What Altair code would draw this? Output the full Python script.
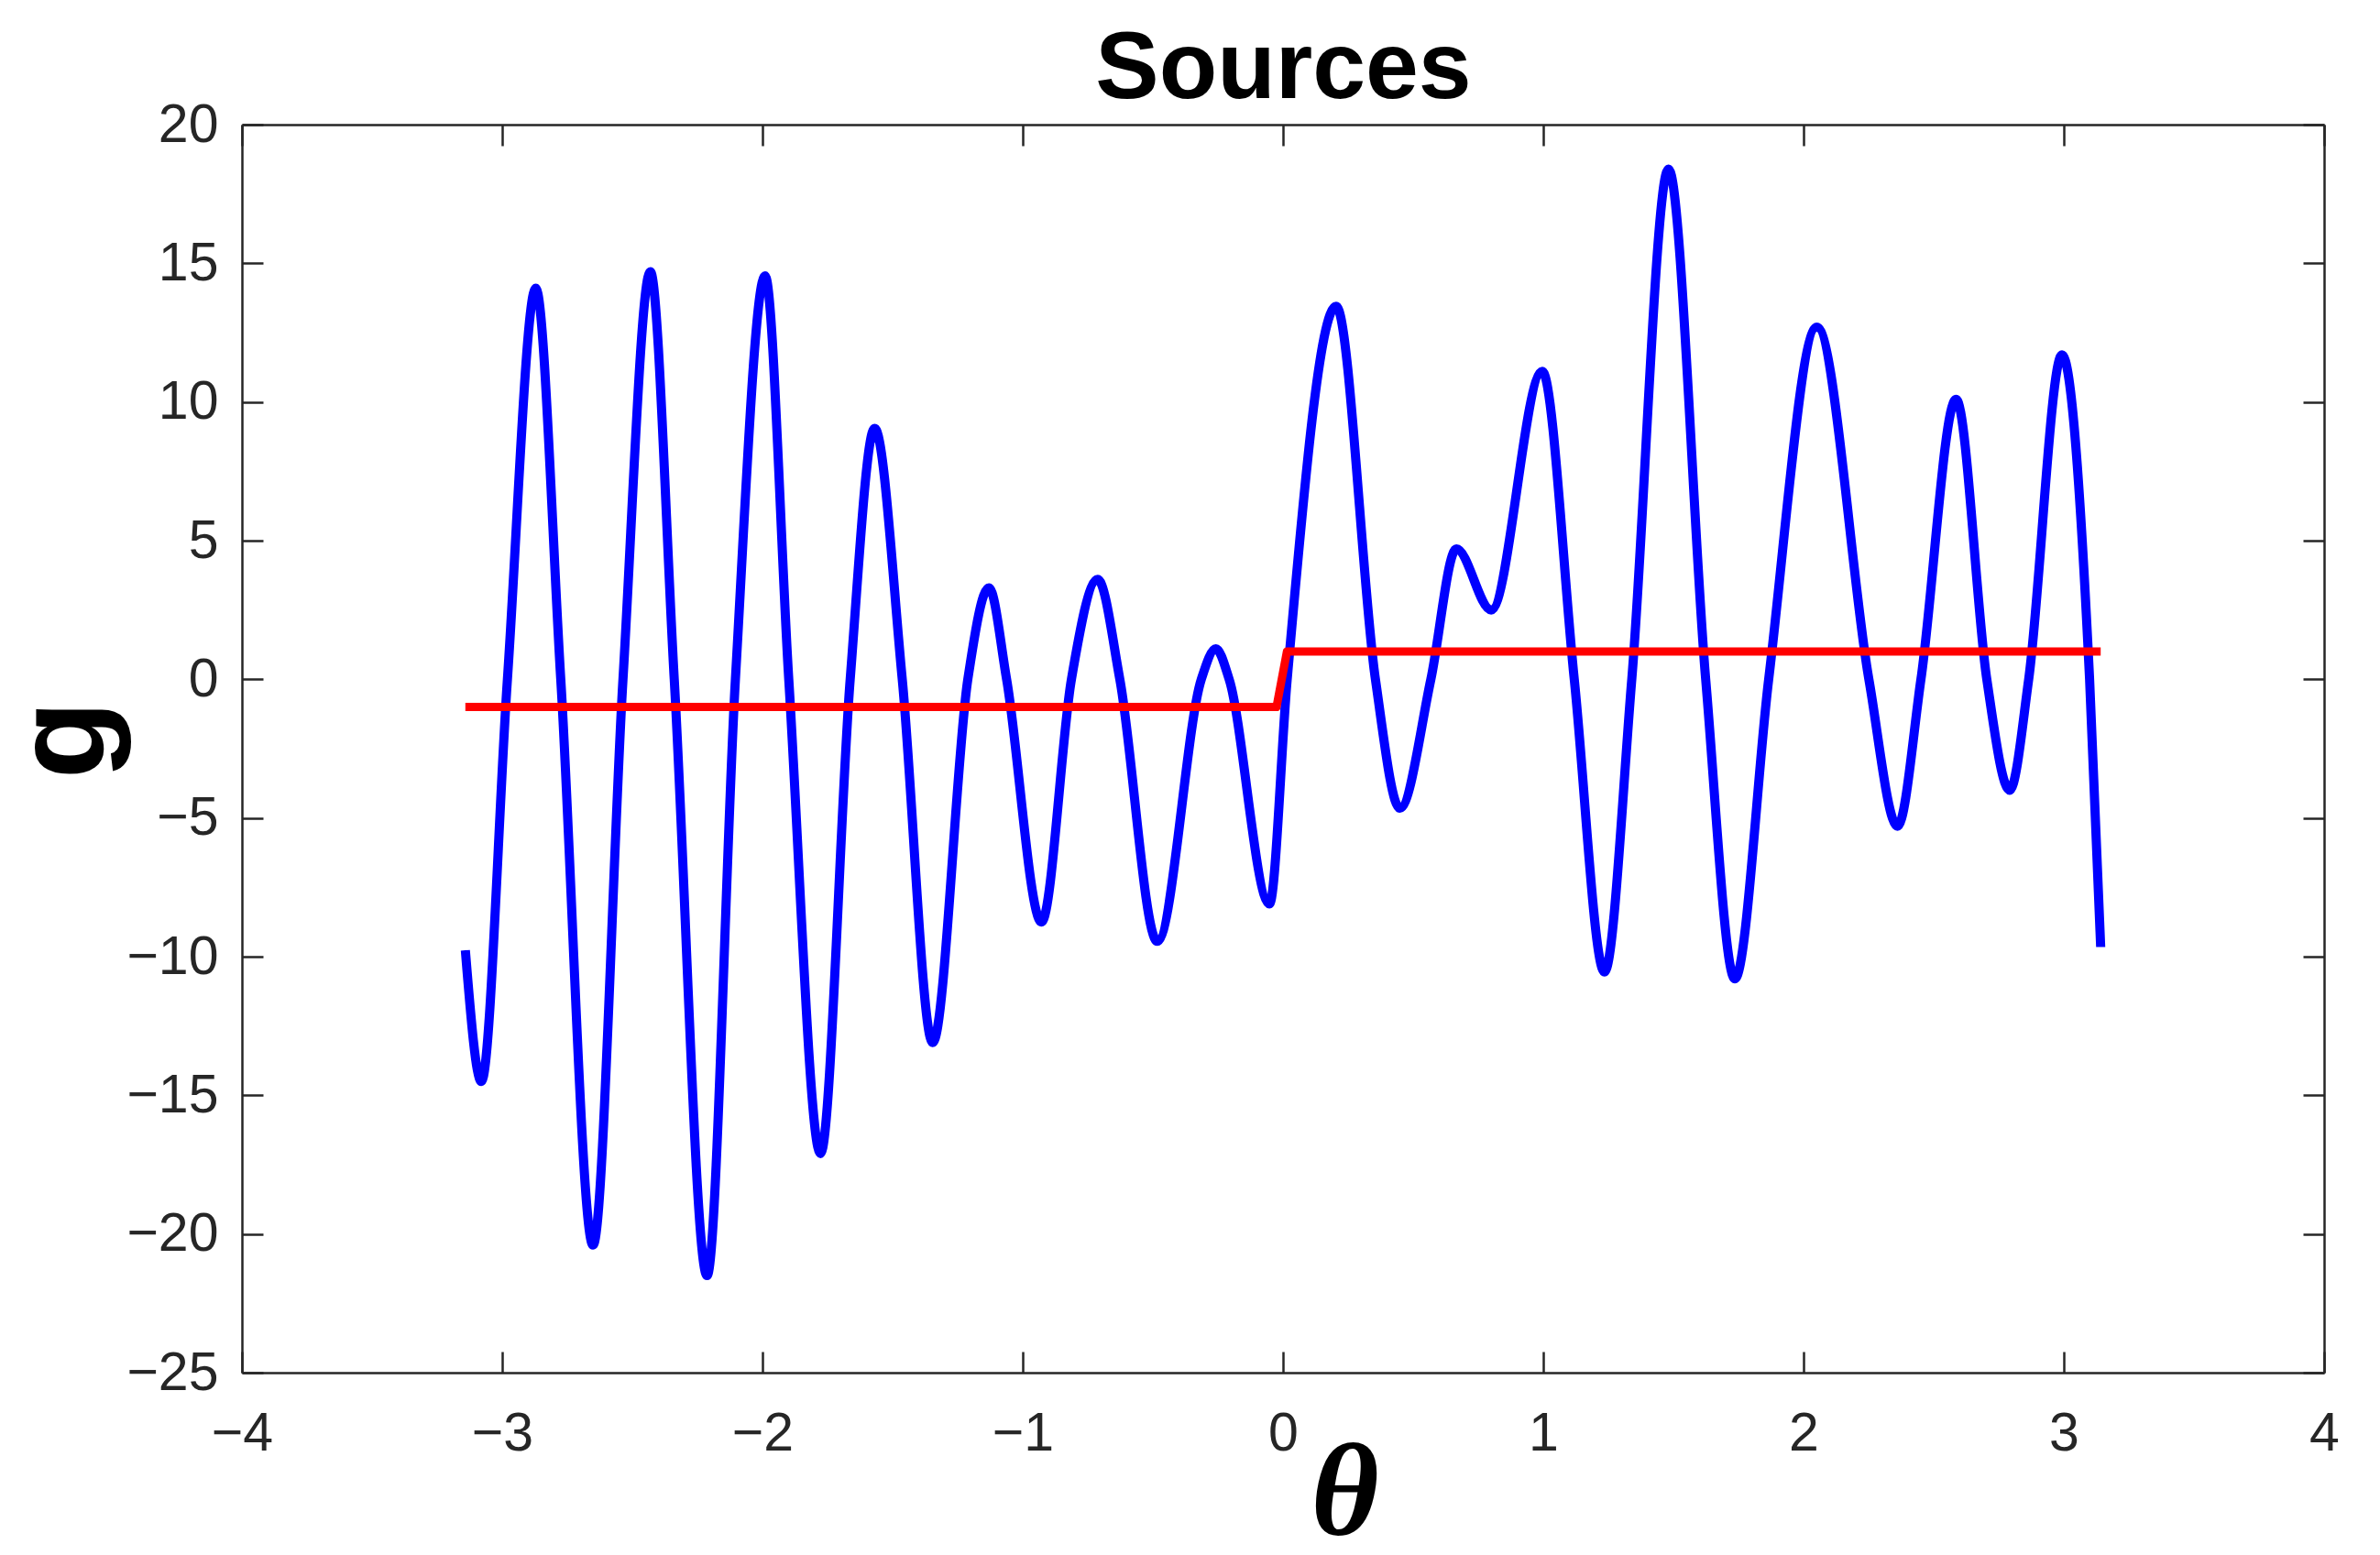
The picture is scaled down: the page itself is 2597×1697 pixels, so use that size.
import altair as alt
import pandas as pd

# Blue curve: samples (extrema and zero crossings)
theta_blue = [-3.1416, -3.080, -2.980, -2.871, -2.775, -2.651, -2.536, -2.431, -2.339,
              -2.213, -2.104, -1.990, -1.899, -1.777, -1.663, -1.569, -1.463, -1.346,
              -1.211, -1.130, -1.062, -0.928, -0.813, -0.712, -0.627, -0.483, -0.314,
              -0.258, -0.207, -0.052, 0.016, 0.204, 0.355, 0.449, 0.568, 0.666, 0.800,
              0.996, 1.119, 1.235, 1.340, 1.481, 1.624, 1.736, 1.866, 2.051,
              2.251, 2.361, 2.451, 2.586, 2.704, 2.792, 2.865, 2.993, 3.099, 3.1416]
g_blue = [-9.77, -14.5, 0.0, 14.1, 0.0, -20.4, 0.0, 14.7, 0.0,
          -21.5, 0.0, 14.55, 0.0, -17.1, 0.0, 9.05, 0.0, -13.1,
          0.0, 3.3, 0.0, -8.75, 0.0, 3.6, 0.0, -9.45, 0.0,
          1.1, 0.0, -8.1, 0.0, 13.45, 0.0, -4.65, 0.0, 4.7, 2.5,
          11.1, 0.0, -10.55, 0.0, 18.4, 0.0, -10.8, 0.0, 12.7,
          0.0, -5.3, 0.0, 10.1, 0.0, -4.0, 0.0, 11.7, 0.0, -9.65]

# Red step curve
theta_red = [-3.1416, -0.025, 0.015, 3.1416]
g_red = [-1, -1, 1, 1]

x_ticks = [-4, -3, -2, -1, 0, 1, 2, 3, 4]
y_ticks = [-25, -20, -15, -10, -5, 0, 5, 10, 15, 20]

blue_df = pd.DataFrame({"theta": theta_blue, "g": g_blue})
red_df = pd.DataFrame({"theta": theta_red, "g": g_red})

AX = "#262626"
TICK = alt.ExprRef("-23")
LABEL_FONT = "Liberation Sans"

x_scale = alt.Scale(domain=[-4, 4], nice=False, zero=False)
y_scale = alt.Scale(domain=[-25, 20], nice=False, zero=False)

common = dict(grid=False, domainColor=AX, domainWidth=2.5, tickColor=AX,
              tickWidth=2.5, tickSize=TICK)

x_bottom = alt.Axis(orient="bottom", values=x_ticks, format="d", labelPadding=60,
                    labelFontSize=59, labelFont=LABEL_FONT, labelColor=AX,
                    labelFlush=False, labelOverlap=False,
                    title="θ", titleFont="Liberation Serif", titleFontSize=143,
                    titleFontStyle="italic", titleFontWeight="bold", titleColor="black",
                    titleX=1203, titleY=176, titleBaseline="alphabetic",
                    titleAlign="center", **common)
y_left = alt.Axis(orient="left", values=y_ticks, format="d", labelPadding=49,
                  labelFontSize=59, labelFont=LABEL_FONT, labelColor=AX,
                  labelOverlap=False, labelFlush=False,
                  title="g", titleFont=LABEL_FONT, titleFontSize=140,
                  titleFontWeight="bold", titleColor="black",
                  titleX=-152, titleY=671, titleBaseline="alphabetic",
                  titleAlign="center", titleAngle=270, **common)
x_top = alt.Axis(orient="top", values=x_ticks, labels=False,
                 title="Sources", titleFont=LABEL_FONT, titleFontSize=104,
                 titleFontWeight="bold", titleColor="black",
                 titleX=1136, titleY=-30, titleBaseline="alphabetic",
                 titleAlign="center", titleAngle=0, **common)
y_right = alt.Axis(orient="right", values=y_ticks, labels=False, title=None, **common)

blue = alt.Chart(blue_df).mark_line(
    color="#0000ff", strokeWidth=10, interpolate="monotone",
    strokeCap="butt", strokeJoin="round"
).encode(
    x=alt.X("theta:Q", scale=x_scale, axis=x_bottom),
    y=alt.Y("g:Q", scale=y_scale, axis=y_left),
)

red = alt.Chart(red_df).mark_line(
    color="#ff0000", strokeWidth=9, strokeCap="butt", strokeJoin="round"
).encode(
    x=alt.X("theta:Q", scale=x_scale, axis=x_top),
    y=alt.Y("g:Q", scale=y_scale, axis=y_right),
)

chart = alt.layer(blue, red).resolve_axis(
    x="independent", y="independent"
).properties(
    width=2272,
    height=1362,
    autosize=alt.AutoSizeParams(type="none"),
    padding={"left": 256, "top": 128, "right": 53, "bottom": 191},
).configure_view(stroke=None).configure(background="white")

chart.save("out.html", embed_options={"renderer": "svg", "actions": False})
